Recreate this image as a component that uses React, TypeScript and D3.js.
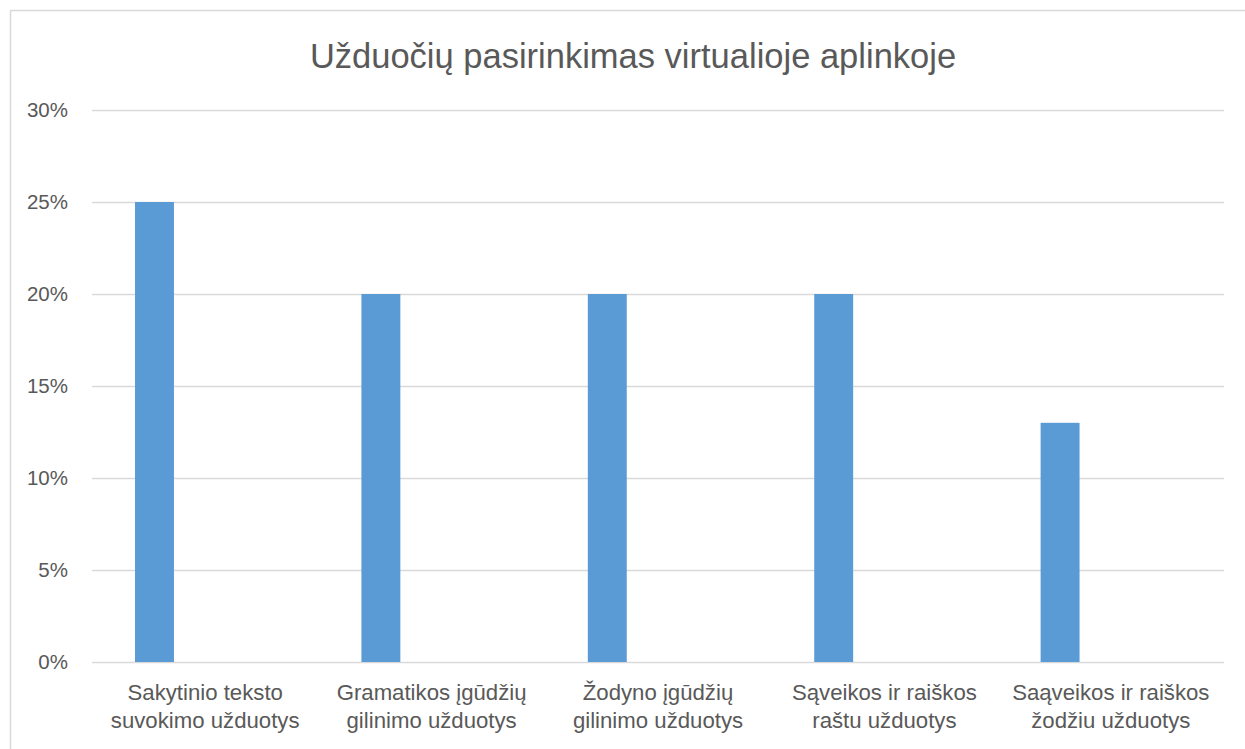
import { useEffect } from "react";
import * as d3 from "d3";

// chart data
const categories = [
  "Sakytinio teksto suvokimo užduotys",
  "Gramatikos įgūdžių gilinimo užduotys",
  "Žodyno įgūdžių gilinimo užduotys",
  "Sąveikos ir raiškos raštu užduotys",
  "Saąveikos ir raiškos žodžiu užduotys",
];
const categoryLines = [
  ["Sakytinio teksto", "suvokimo užduotys"],
  ["Gramatikos įgūdžių", "gilinimo užduotys"],
  ["Žodyno įgūdžių", "gilinimo užduotys"],
  ["Sąveikos ir raiškos", "raštu užduotys"],
  ["Saąveikos ir raiškos", "žodžiu užduotys"],
];
const values = [25, 20, 20, 20, 13];
const yTicks = [0, 5, 10, 15, 20, 25, 30];
const title = "Užduočių pasirinkimas virtualioje aplinkoje";

const W = 1245;
const H = 749;
const FONT = "'Liberation Sans', Arial, sans-serif";
const TEXT = "#595959";

export default function App() {
  useEffect(() => {
    document.body.style.margin = "0";
  }, []);

  const plot = { left: 92, right: 1224, top: 110, bottom: 662 };

  const x = d3
    .scaleBand<string>()
    .domain(categories)
    .range([plot.left, plot.right])
    .padding(0);

  const y = d3.scaleLinear().domain([0, 30]).range([plot.bottom, plot.top]);

  const bw = x.bandwidth();
  // bar sits left within its slot (second, empty series in the original)
  const barOffset = bw * 0.19;
  const barWidth = bw * 0.172;

  return (
    <svg
      width={W}
      height={H}
      style={{ display: "block", position: "fixed", left: 0, top: 0, background: "#fff" }}
      fontFamily={FONT}
    >
      <rect x={10.5} y={10.5} width={W + 20} height={H + 20} fill="#fff" stroke="#d9d9d9" strokeWidth={1.5} />

      <text x={633} y={68} textAnchor="middle" fontSize={34.5} fill={TEXT}>
        {title}
      </text>

      {yTicks.map((t) => (
        <g key={t}>
          <line
            x1={plot.left}
            x2={plot.right}
            y1={Math.round(y(t)) + 0.5}
            y2={Math.round(y(t)) + 0.5}
            stroke="#d9d9d9"
            strokeWidth={1.5}
          />
          <text x={68} y={y(t)} dy="0.36em" textAnchor="end" fontSize={20.5} fill={TEXT}>
            {`${t}%`}
          </text>
        </g>
      ))}

      {categories.map((c, i) => (
        <rect
          key={c}
          x={(x(c) ?? 0) + barOffset}
          y={y(values[i])}
          width={barWidth}
          height={y(0) - y(values[i])}
          fill="#5b9bd5"
        />
      ))}

      {categories.map((c, i) => (
        <text
          key={c}
          x={(x(c) ?? 0) + bw / 2}
          y={700}
          textAnchor="middle"
          fontSize={22.2}
          fill={TEXT}
        >
          {categoryLines[i].map((line, j) => (
            <tspan key={j} x={(x(c) ?? 0) + bw / 2} dy={j === 0 ? 0 : 28}>
              {line}
            </tspan>
          ))}
        </text>
      ))}
    </svg>
  );
}
